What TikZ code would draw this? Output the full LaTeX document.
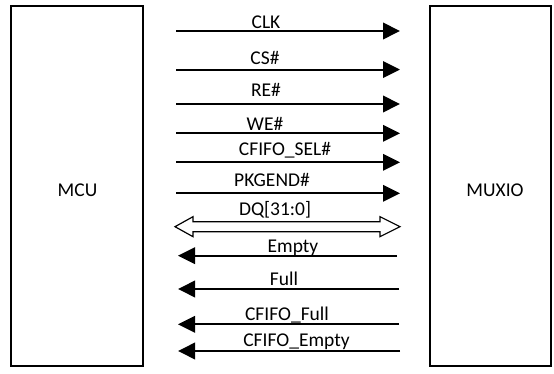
\documentclass[tikz,border=0pt]{standalone}
\usepackage{fontspec}
\setmainfont{Carlito}
\usetikzlibrary{arrows.meta,calc}
\begin{document}
\begin{tikzpicture}[x=1pt,y=-1pt,
  block/.style={draw,line width=1.3pt,inner sep=0pt},
  sig/.style={line width=2pt,-{Triangle[length=17pt,width=16.5pt]}},
  lbl/.style={anchor=base,inner sep=0pt,font=\fontsize{19.5}{22}\selectfont},
  bus/.style={draw,line width=1.2pt,fill=white,line join=miter}]
\useasboundingbox (0,0) rectangle (554,374);
% the two blocks
\draw[block] (11,6) rectangle (143,366);
\node[lbl,anchor=center] (mcu) at (77.5,190) {MCU};
\draw[block] (430,6) rectangle (551,366);
\node[lbl,anchor=center] (muxio) at (495,190) {MUXIO};
% MCU -> MUXIO signals
\foreach \nm/\y/\lx/\ly/\txt in {clk/31/266/28.5/CLK, cs/69.6/265/65/CS\#, re/104/266/97/RE\#,
    we/133.3/265/130.5/WE\#, sel/162.3/285/155.5/CFIFO\_SEL\#, pkg/193.3/272/186.5/PKGEND\#}{
  \coordinate (\nm A) at (176,\y);
  \coordinate (\nm B) at (400,\y);
  \draw[sig] (\nm A) -- (\nm B);
  \node[lbl] (\nm L) at (\lx,\ly) {\txt};
}
% bidirectional data bus
\coordinate (dqA) at (175,226.7);
\coordinate (dqB) at (400,226.7);
\draw[bus] (dqA) -- ($(dqA)+(18,-10)$) -- ($(dqA)+(18,-5)$) -- ($(dqB)+(-20,-5)$)
  -- ($(dqB)+(-20,-10)$) -- (dqB) -- ($(dqB)+(-20,10)$) -- ($(dqB)+(-20,5)$)
  -- ($(dqA)+(18,5)$) -- ($(dqA)+(18,10)$) -- cycle;
\node[lbl] (dqL) at (275,215) {DQ[31:0]};
% MUXIO -> MCU status signals
\foreach \nm/\y/\xr/\lx/\ly/\txt in {emp/255.7/397/293/252.7/Empty, ful/289/399/284/285.5/Full,
    cff/324.3/399/287/320.5/CFIFO\_Full, cfe/351/400/296.5/346/CFIFO\_Empty}{
  \coordinate (\nm A) at (\xr,\y);
  \coordinate (\nm B) at (178,\y);
  \draw[sig] (\nm A) -- (\nm B);
  \node[lbl] (\nm L) at (\lx,\ly) {\txt};
}
\end{tikzpicture}
\end{document}
